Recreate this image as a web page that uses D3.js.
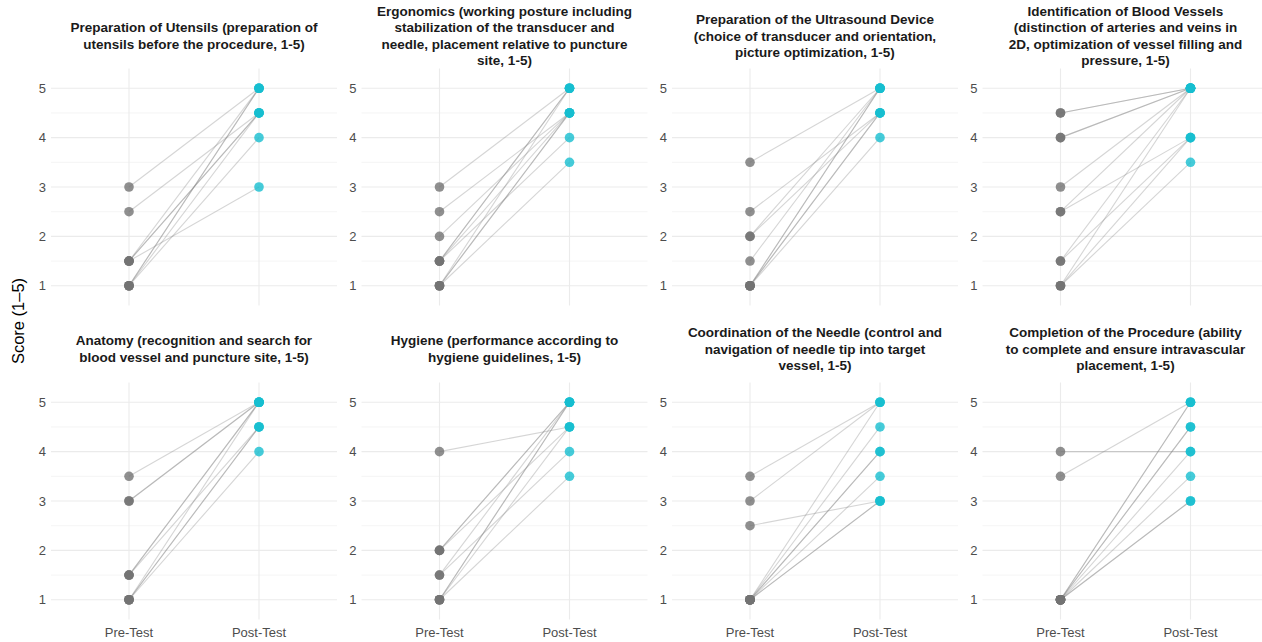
<!DOCTYPE html>
<html>
<head>
<meta charset="utf-8">
<script src="https://cdn.jsdelivr.net/npm/d3@7"></script>
<style>
  body { margin: 0; background: #fff; }
  text { font-family: "Liberation Sans", Arial, sans-serif; }
</style>
</head>
<body>
<svg id="chart" width="1262" height="642"></svg>
<script>
// facet titles, one per skill (line breaks as in the original strips)
var titles = [
  "Preparation of Utensils (preparation of\nutensils before the procedure, 1-5)",
  "Ergonomics (working posture including\nstabilization of the transducer and\nneedle, placement relative to puncture\nsite, 1-5)",
  "Preparation of the Ultrasound Device\n(choice of transducer and orientation,\npicture optimization, 1-5)",
  "Identification of Blood Vessels\n(distinction of arteries and veins in\n2D, optimization of vessel filling and\npressure, 1-5)",
  "Anatomy (recognition and search for\nblood vessel and puncture site, 1-5)",
  "Hygiene (performance according to\nhygiene guidelines, 1-5)",
  "Coordination of the Needle (control and\nnavigation of needle tip into target\nvessel, 1-5)",
  "Completion of the Procedure (ability\nto complete and ensure intravascular\nplacement, 1-5)"
];
var phases = ["Pre-Test", "Post-Test"];
var yTicks = [1, 2, 3, 4, 5];
var yMinorTicks = [1.5, 2.5, 3.5, 4.5];

// one entry per participant, same order in pre and post
var preScores = [
  [3, 2.5, 1.5, 1.5, 1.5, 1.5, 1, 1, 1, 1],
  [3, 2.5, 2, 1.5, 1.5, 1.5, 1.5, 1, 1, 1, 1],
  [3.5, 2.5, 2, 2, 1.5, 1, 1, 1, 1, 1],
  [4.5, 4.5, 4, 4, 3, 2.5, 2.5, 1.5, 1.5, 1, 1, 1],
  [3.5, 3, 3, 1.5, 1.5, 1.5, 1, 1, 1, 1],
  [4, 2, 2, 2, 1.5, 1.5, 1, 1, 1, 1],
  [3.5, 3, 2.5, 1, 1, 1, 1, 1, 1, 1],
  [4, 3.5, 1, 1, 1, 1, 1, 1, 1, 1]
];
var postScores = [
  [5, 4.5, 3, 5, 4.5, 4.5, 5, 5, 4.5, 4],
  [5, 4.5, 4.5, 5, 5, 4.5, 4, 5, 4.5, 4.5, 3.5],
  [5, 4.5, 4.5, 5, 5, 5, 5, 4.5, 4.5, 4],
  [5, 5, 5, 5, 5, 5, 4, 5, 4, 5, 4, 3.5],
  [5, 5, 5, 5, 5, 4.5, 5, 4.5, 4.5, 4],
  [4.5, 5, 5, 4.5, 5, 4, 5, 5, 4.5, 3.5],
  [5, 5, 3, 5, 4.5, 4, 4, 3.5, 3, 3],
  [4, 5, 5, 5, 4.5, 4.5, 4, 3.5, 3, 3]
];

var svg = d3.select("#chart");
var width = 1262, height = 642;

var nCols = 4;
var panelW = 286, panelH = 237;
var colLeft = 51, colStep = 310.5;
var rowTop = [68.5, 382.5];
var stripMid = [36, 349];
var lineH = 16.2;

var preColor = "#737373", postColor = "#17BECF";

var x = d3.scalePoint().domain(phases).range([0, panelW]).padding(0.6);
var y = d3.scaleLinear().domain([0.6, 5.4]).range([panelH, 0]);

// y axis title
svg.append("text")
  .attr("transform", "translate(18," + (height / 2) + ") rotate(-90)")
  .attr("text-anchor", "middle")
  .attr("dominant-baseline", "central")
  .style("font-size", "16.5px")
  .style("fill", "#000")
  .text("Score (1\u20135)");

titles.forEach(function(title, k){
  var col = k % nCols, row = Math.floor(k / nCols);
  var left = colLeft + col * colStep;
  var top = rowTop[row];

  // strip title
  var lines = title.split("\n");
  var t = svg.append("text")
    .attr("text-anchor", "middle")
    .style("font-size", "13.5px")
    .style("font-weight", "bold")
    .style("fill", "#1a1a1a");
  lines.forEach(function(l, i){
    t.append("tspan")
      .attr("x", left + panelW / 2)
      .attr("y", stripMid[row] + (i - (lines.length - 1) / 2) * lineH)
      .attr("dominant-baseline", "central")
      .text(l);
  });

  var g = svg.append("g").attr("transform", "translate(" + left + "," + top + ")");

  // grid
  g.selectAll(".minor").data(yMinorTicks).enter().append("line")
    .attr("x1", 0).attr("x2", panelW)
    .attr("y1", function(d){ return y(d); }).attr("y2", function(d){ return y(d); })
    .style("stroke", "#EBEBEB").style("stroke-width", 0.55);
  g.selectAll(".major").data(yTicks).enter().append("line")
    .attr("x1", 0).attr("x2", panelW)
    .attr("y1", function(d){ return y(d); }).attr("y2", function(d){ return y(d); })
    .style("stroke", "#EBEBEB").style("stroke-width", 1.1);
  g.selectAll(".vmajor").data(phases).enter().append("line")
    .attr("x1", function(d){ return x(d); }).attr("x2", function(d){ return x(d); })
    .attr("y1", 0).attr("y2", panelH)
    .style("stroke", "#EBEBEB").style("stroke-width", 1.1);

  // y tick labels
  g.selectAll(".ytick").data(yTicks).enter().append("text")
    .attr("x", -5)
    .attr("y", function(d){ return y(d); })
    .attr("text-anchor", "end")
    .attr("dominant-baseline", "central")
    .style("font-size", "13px")
    .style("fill", "#4D4D4D")
    .text(function(d){ return d; });

  // x tick labels on bottom row
  if(row === 1){
    g.selectAll(".xtick").data(phases).enter().append("text")
      .attr("x", function(d){ return x(d); })
      .attr("y", panelH + 17)
      .attr("text-anchor", "middle")
      .style("font-size", "13px")
      .style("fill", "#4D4D4D")
      .text(function(d){ return d; });
  }

  var pairs = d3.zip(preScores[k], postScores[k]);

  // connecting lines
  g.selectAll(".pair").data(pairs).enter().append("line")
    .attr("x1", x(phases[0])).attr("x2", x(phases[1]))
    .attr("y1", function(d){ return y(d[0]); })
    .attr("y2", function(d){ return y(d[1]); })
    .style("stroke", "#7F7F7F")
    .style("stroke-opacity", 0.33)
    .style("stroke-width", 1.1);

  g.selectAll(".pre").data(preScores[k]).enter().append("circle")
    .attr("cx", x(phases[0]))
    .attr("cy", function(d){ return y(d); })
    .attr("r", 4.8)
    .style("fill", preColor)
    .style("fill-opacity", 0.8);

  g.selectAll(".post").data(postScores[k]).enter().append("circle")
    .attr("cx", x(phases[1]))
    .attr("cy", function(d){ return y(d); })
    .attr("r", 4.8)
    .style("fill", postColor)
    .style("fill-opacity", 0.8);
});
</script>
</body>
</html>
